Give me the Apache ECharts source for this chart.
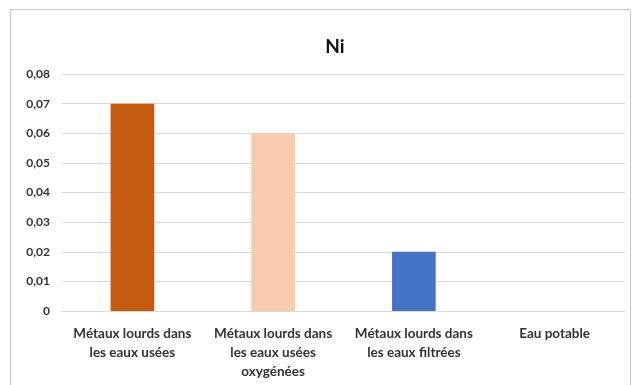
<!DOCTYPE html>
<html>
<head>
<meta charset="utf-8">
<script src="https://cdn.jsdelivr.net/npm/echarts@6/dist/echarts.min.js"></script>
<style>
  html, body { margin: 0; padding: 0; background: #fff; }
  #chart { width: 638px; height: 385px; }
</style>
</head>
<body>
<div id="chart"></div>
<script>
// Ni concentration per water type
var categories = [
  'Métaux lourds dans\nles eaux usées',
  'Métaux lourds dans\nles eaux usées\noxygénées',
  'Métaux lourds dans\nles eaux filtrées',
  'Eau potable'
];
var values = [0.07, 0.06, 0.02, 0];
var barColors = ['#C55A11', '#F8CBAD', '#4472C4', '#A5A5A5'];

var chart = echarts.init(document.getElementById('chart'));
var option = {
  backgroundColor: '#fff',
  textStyle: { fontFamily: 'Lato, "Open Sans", sans-serif' },
  title: {
    text: 'Ni',
    left: 330,
    top: 32,
    textAlign: 'center',
    textStyle: { fontSize: 19, fontWeight: 'bold', color: '#111' }
  },
  graphic: [{
    type: 'rect',
    shape: { x: 10.5, y: 9.5, width: 620, height: 390 },
    style: { fill: 'none', stroke: '#c8c8c8', lineWidth: 1 },
    silent: true
  }],
  grid: { left: 62, right: 13, top: 74, bottom: 74 },
  xAxis: {
    type: 'category',
    data: categories,
    axisLine: { lineStyle: { color: '#d9d9d9' } },
    axisTick: { show: false },
    axisLabel: {
      interval: 0,
      color: '#333',
      fontSize: 13.5,
      fontWeight: 'bold',
      lineHeight: 19,
      margin: 13
    }
  },
  yAxis: {
    type: 'value',
    min: 0,
    max: 0.08,
    interval: 0.01,
    axisLine: { show: false },
    axisTick: { show: false },
    splitLine: { lineStyle: { color: '#d9d9d9' } },
    axisLabel: {
      color: '#333',
      fontSize: 12,
      fontWeight: 'bold',
      margin: 12,
      formatter: function (v) {
        return v === 0 ? '0' : v.toFixed(2).replace('.', ',');
      }
    }
  },
  series: [{
    type: 'bar',
    data: values.map(function (v, i) {
      return { value: v, itemStyle: { color: barColors[i] } };
    }),
    barCategoryGap: '69%'
  }]
};
chart.setOption(option);
</script>
</body>
</html>
